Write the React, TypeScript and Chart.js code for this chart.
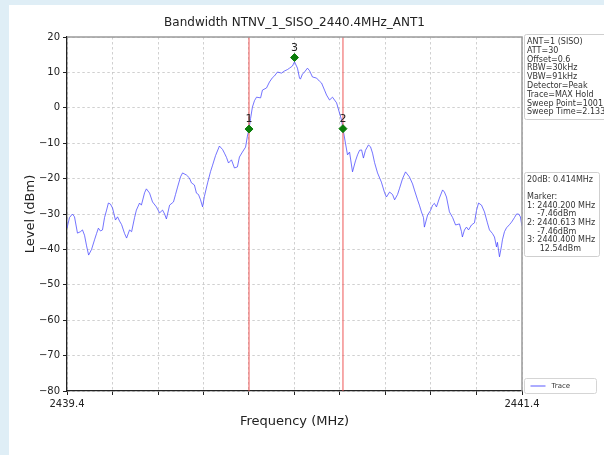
import React, { useEffect, useRef } from 'react';
import { Chart, registerables } from 'chart.js';

Chart.register(...registerables);

const TITLE = 'Bandwidth NTNV_1_SISO_2440.4MHz_ANT1';
const X_LABEL = 'Frequency (MHz)';
const Y_LABEL = 'Level (dBm)';
const X_MIN = 2439.4;
const X_MAX = 2441.4;
const X_STEP = 0.2;
const Y_MIN = -80;
const Y_MAX = 20;
const Y_STEP = 10;

const traceFreq = [
  2439.400, 2439.411, 2439.424, 2439.433, 2439.446, 2439.459, 2439.468, 2439.477, 2439.486, 2439.495,
  2439.508, 2439.521, 2439.530, 2439.538, 2439.547, 2439.556, 2439.565, 2439.574, 2439.582, 2439.591,
  2439.600, 2439.613, 2439.622, 2439.631, 2439.640, 2439.653, 2439.662, 2439.675, 2439.684, 2439.697,
  2439.705, 2439.719, 2439.727, 2439.741, 2439.749, 2439.763, 2439.776, 2439.793, 2439.807, 2439.820,
  2439.829, 2439.837, 2439.851, 2439.868, 2439.877, 2439.886, 2439.899, 2439.908, 2439.925, 2439.938,
  2439.947, 2439.960, 2439.969, 2439.978, 2439.987, 2439.996, 2440.004, 2440.018, 2440.031, 2440.040,
  2440.053, 2440.070, 2440.084, 2440.092, 2440.101, 2440.110, 2440.123, 2440.136, 2440.149, 2440.158,
  2440.171, 2440.185, 2440.193, 2440.200, 2440.207, 2440.215, 2440.224, 2440.233, 2440.251, 2440.259,
  2440.277, 2440.290, 2440.303, 2440.312, 2440.325, 2440.343, 2440.356, 2440.369, 2440.378, 2440.391,
  2440.400, 2440.413, 2440.422, 2440.426, 2440.435, 2440.444, 2440.457, 2440.466, 2440.479, 2440.497,
  2440.510, 2440.519, 2440.532, 2440.541, 2440.554, 2440.567, 2440.585, 2440.598, 2440.607, 2440.613,
  2440.624, 2440.633, 2440.642, 2440.655, 2440.668, 2440.677, 2440.686, 2440.695, 2440.703, 2440.712,
  2440.725, 2440.734, 2440.743, 2440.752, 2440.765, 2440.782, 2440.796, 2440.804, 2440.818, 2440.831,
  2440.840, 2440.853, 2440.862, 2440.875, 2440.888, 2440.905, 2440.919, 2440.927, 2440.941, 2440.949,
  2440.958, 2440.967, 2440.971, 2440.985, 2440.998, 2441.007, 2441.015, 2441.024, 2441.037, 2441.051,
  2441.059, 2441.068, 2441.081, 2441.095, 2441.108, 2441.125, 2441.134, 2441.138, 2441.147, 2441.156,
  2441.165, 2441.178, 2441.191, 2441.200, 2441.209, 2441.222, 2441.235, 2441.248, 2441.257, 2441.270,
  2441.279, 2441.288, 2441.292, 2441.301, 2441.310, 2441.314, 2441.323, 2441.332, 2441.345, 2441.354,
  2441.367, 2441.376, 2441.385, 2441.393, 2441.400,
];

const traceLevel = [
  -34.0, -31.0, -30.0, -30.8, -35.4, -35.0, -34.5, -36.0, -39.0, -41.6,
  -40.0, -37.3, -35.5, -34.0, -34.8, -34.5, -31.0, -28.9, -26.9, -27.2,
  -28.3, -31.7, -30.8, -32.0, -33.0, -35.5, -36.8, -34.5, -35.0, -31.0,
  -28.9, -26.9, -27.5, -24.0, -22.9, -24.1, -26.6, -28.0, -29.7, -28.9,
  -30.0, -31.4, -27.5, -26.6, -24.5, -22.4, -19.5, -18.4, -19.0, -19.8,
  -21.2, -21.8, -24.1, -24.5, -26.0, -28.0, -25.0, -21.2, -18.0, -16.2,
  -13.5, -10.8, -11.8, -12.8, -14.0, -15.6, -14.7, -17.0, -16.7, -13.9,
  -12.5, -11.1, -8.0, -6.0, -3.0, 0.2, 2.0, 3.0, 2.8, 5.0,
  5.6, 7.3, 8.5, 9.0, 10.1, 9.8, 10.4, 10.8, 11.2, 11.8,
  13.0, 11.2, 8.4, 8.1, 9.5, 10.1, 11.2, 10.5, 8.7, 8.4,
  7.5, 7.0, 5.0, 3.6, 2.2, 3.0, 1.4, -1.5, -3.5, -5.9,
  -10.0, -13.3, -12.5, -18.1, -15.0, -13.3, -12.0, -11.9, -14.2, -12.0,
  -10.5, -11.0, -12.8, -15.5, -18.4, -21.0, -24.0, -25.2, -23.8, -24.5,
  -26.0, -24.5, -22.7, -20.0, -18.1, -19.5, -21.5, -23.2, -26.0, -27.5,
  -29.4, -31.0, -33.7, -30.3, -29.0, -27.5, -27.0, -28.0, -25.5, -23.2,
  -23.8, -25.2, -29.4, -31.0, -33.1, -32.8, -35.0, -36.5, -34.5, -33.7,
  -34.5, -33.1, -32.5, -29.0, -26.9, -27.5, -29.4, -32.5, -34.5, -35.5,
  -36.5, -39.3, -38.0, -42.1, -39.0, -37.3, -35.0, -33.9, -33.0, -32.3,
  -31.0, -30.0, -30.0, -30.8, -33.5,
];

const markerFreq = [2440.2, 2440.613, 2440.4];
const markerLevel = [-6.0, -5.9, 14.2];
const markerLabels = ['1', '2', '3'];
const boundaryFreq = [2440.2, 2440.613];

const settingsLines = [
  'ANT=1 (SISO)',
  'ATT=30',
  'Offset=0.6',
  'RBW=30kHz',
  'VBW=91kHz',
  'Detector=Peak',
  'Trace=MAX Hold',
  'Sweep Point=1001',
  'Sweep Time=2.133ms',
];
const markerInfoLines = [
  '20dB: 0.414MHz',
  '',
  'Marker:',
  '1: 2440.200 MHz',
  '    -7.46dBm',
  '2: 2440.613 MHz',
  '    -7.46dBm',
  '3: 2440.400 MHz',
  '     12.54dBm',
];
const LEGEND_LABEL = 'Trace';

const FONT = "'DejaVu Sans', 'Liberation Sans', sans-serif";
const TRACE_COLOR = 'rgba(70,70,255,0.75)';
const LINE_COLOR = 'rgba(238,80,80,0.75)';
const MARKER_COLOR = '#0a7d0a';

const fmtMinus = (v: number) => (v < 0 ? '\u2212' + Math.abs(v) : String(v));

function drawTextBox(ctx: CanvasRenderingContext2D, x: number, y: number, w: number, h: number, lines: string[], lineStep: number) {
  ctx.save();
  ctx.fillStyle = 'rgba(255,255,255,0.9)';
  ctx.strokeStyle = '#cfcfcf';
  ctx.lineWidth = 1;
  ctx.beginPath();
  if ((ctx as any).roundRect) (ctx as any).roundRect(x, y, w, h, 2);
  else ctx.rect(x, y, w, h);
  ctx.fill();
  ctx.stroke();
  ctx.fillStyle = '#333';
  ctx.font = `8px ${FONT}`;
  ctx.textBaseline = 'middle';
  ctx.textAlign = 'left';
  lines.forEach((t, i) => {
    ctx.fillText(t, x + 2.5, y + 7.5 + i * lineStep);
  });
  ctx.restore();
}

const overlayPlugin = {
  id: 'overlay',
  afterDatasetsDraw(chart: any) {
    const { ctx } = chart;
    const meta = chart.getDatasetMeta(0);
    ctx.save();
    ctx.fillStyle = '#222';
    ctx.font = `11px ${FONT}`;
    ctx.textAlign = 'center';
    ctx.textBaseline = 'bottom';
    meta.data.forEach((pt: any, i: number) => {
      ctx.fillText(markerLabels[i], pt.x, pt.y - 4);
    });
    ctx.restore();
  },
  afterDraw(chart: any) {
    const { ctx, chartArea: a } = chart;
    ctx.save();
    ctx.strokeStyle = '#9a9a9a';
    ctx.lineWidth = 1.5;
    ctx.beginPath();
    ctx.moveTo(a.left, a.top);
    ctx.lineTo(a.right, a.top);
    ctx.lineTo(a.right, a.bottom);
    ctx.stroke();
    ctx.restore();

    const bx = a.right + 2.5;
    drawTextBox(ctx, bx, 34.5, 90, 85, settingsLines, 8.8);
    drawTextBox(ctx, bx, 172.5, 75, 84, markerInfoLines, 8.6);

    // legend
    ctx.save();
    ctx.fillStyle = 'rgba(255,255,255,0.9)';
    ctx.strokeStyle = '#d5d5d5';
    ctx.lineWidth = 1;
    ctx.beginPath();
    if ((ctx as any).roundRect) (ctx as any).roundRect(bx, 378.5, 72, 15, 2);
    else ctx.rect(bx, 378.5, 72, 15);
    ctx.fill();
    ctx.stroke();
    ctx.strokeStyle = TRACE_COLOR;
    ctx.lineWidth = 1.2;
    ctx.beginPath();
    ctx.moveTo(bx + 6, 386);
    ctx.lineTo(bx + 21, 386);
    ctx.stroke();
    ctx.fillStyle = '#333';
    ctx.font = `7px ${FONT}`;
    ctx.textBaseline = 'middle';
    ctx.fillText(LEGEND_LABEL, bx + 27, 386);
    ctx.restore();
  },
};

export default function App() {
  const canvasRef = useRef<HTMLCanvasElement | null>(null);

  useEffect(() => {
    const canvas = canvasRef.current;
    if (!canvas) return;
    Chart.defaults.font.family = FONT;

    const datasets: any[] = [
      {
        label: 'Markers',
        data: markerFreq.map((f, i) => ({ x: f, y: markerLevel[i] })),
        showLine: false,
        pointStyle: 'rectRot',
        pointRadius: 4,
        pointBackgroundColor: MARKER_COLOR,
        pointBorderColor: MARKER_COLOR,
        order: 0,
      },
      ...boundaryFreq.map((f) => ({
        label: 'Bound',
        data: [{ x: f, y: Y_MIN }, { x: f, y: Y_MAX }],
        showLine: true,
        borderColor: LINE_COLOR,
        borderWidth: 1.3,
        pointRadius: 0,
        order: 1,
      })),
      {
        label: LEGEND_LABEL,
        data: traceFreq.map((f, i) => ({ x: f, y: traceLevel[i] })),
        showLine: true,
        borderColor: TRACE_COLOR,
        borderWidth: 1,
        pointRadius: 0,
        tension: 0,
        order: 2,
      },
    ];

    const chart = new Chart(canvas, {
      type: 'scatter',
      data: { datasets },
      plugins: [overlayPlugin],
      options: {
        animation: false,
        responsive: false,
        events: [],
        layout: { padding: { left: 0, right: 82, top: 0, bottom: 0 } },
        plugins: {
          legend: { display: false },
          tooltip: { enabled: false },
          title: {
            display: true,
            text: TITLE,
            fullSize: false,
            color: '#222',
            font: { size: 12, weight: 'normal', family: FONT },
            padding: { top: 16, bottom: 6.6 },
          },
        },
        scales: {
          x: {
            type: 'linear',
            min: X_MIN,
            max: X_MAX,
            afterFit: (s: any) => { s.height = 64; },
            ticks: {
              stepSize: X_STEP,
              autoSkip: false,
              maxRotation: 0,
              padding: 3,
              color: '#222',
              font: { size: 10 },
              callback: (v: any, i: number, ticks: any[]) =>
                i === 0 || i === ticks.length - 1 ? Number(v).toFixed(1) : '',
            },
            grid: {
              color: '#c4c4c4',
              lineWidth: 0.8,
              tickLength: 4,
              tickColor: '#222',
              tickWidth: 1,
            },
            border: { display: true, color: '#222', width: 1.3, dash: [2.5, 2.5] },
            title: {
              display: true,
              text: X_LABEL,
              color: '#222',
              font: { size: 13 },
              padding: { top: 0, bottom: 26 },
            },
          },
          y: {
            type: 'linear',
            min: Y_MIN,
            max: Y_MAX,
            afterFit: (s: any) => { s.width = 67; },
            ticks: {
              stepSize: Y_STEP,
              padding: 3,
              color: '#222',
              font: { size: 10 },
              callback: (v: any) => fmtMinus(Number(v)),
            },
            grid: {
              color: '#c4c4c4',
              lineWidth: 0.8,
              tickLength: 4,
              tickColor: '#222',
              tickWidth: 1,
            },
            border: { display: true, color: '#222', width: 1.3, dash: [2.5, 2.5] },
            title: {
              display: true,
              text: Y_LABEL,
              color: '#222',
              font: { size: 13 },
              padding: { top: 23, bottom: 0 },
            },
          },
        },
      } as any,
    });
    return () => chart.destroy();
  }, []);

  return (
    <div style={{ position: 'fixed', left: 0, top: 0, width: 604, height: 455, overflow: 'hidden', background: '#dfeef6' }}>
      <div style={{ position: 'absolute', left: 9, top: 5, right: 0, bottom: 0, background: '#ffffff' }} />
      <canvas ref={canvasRef} width={604} height={455} style={{ position: 'absolute', left: 0, top: 0, display: 'block' }} />
    </div>
  );
}
